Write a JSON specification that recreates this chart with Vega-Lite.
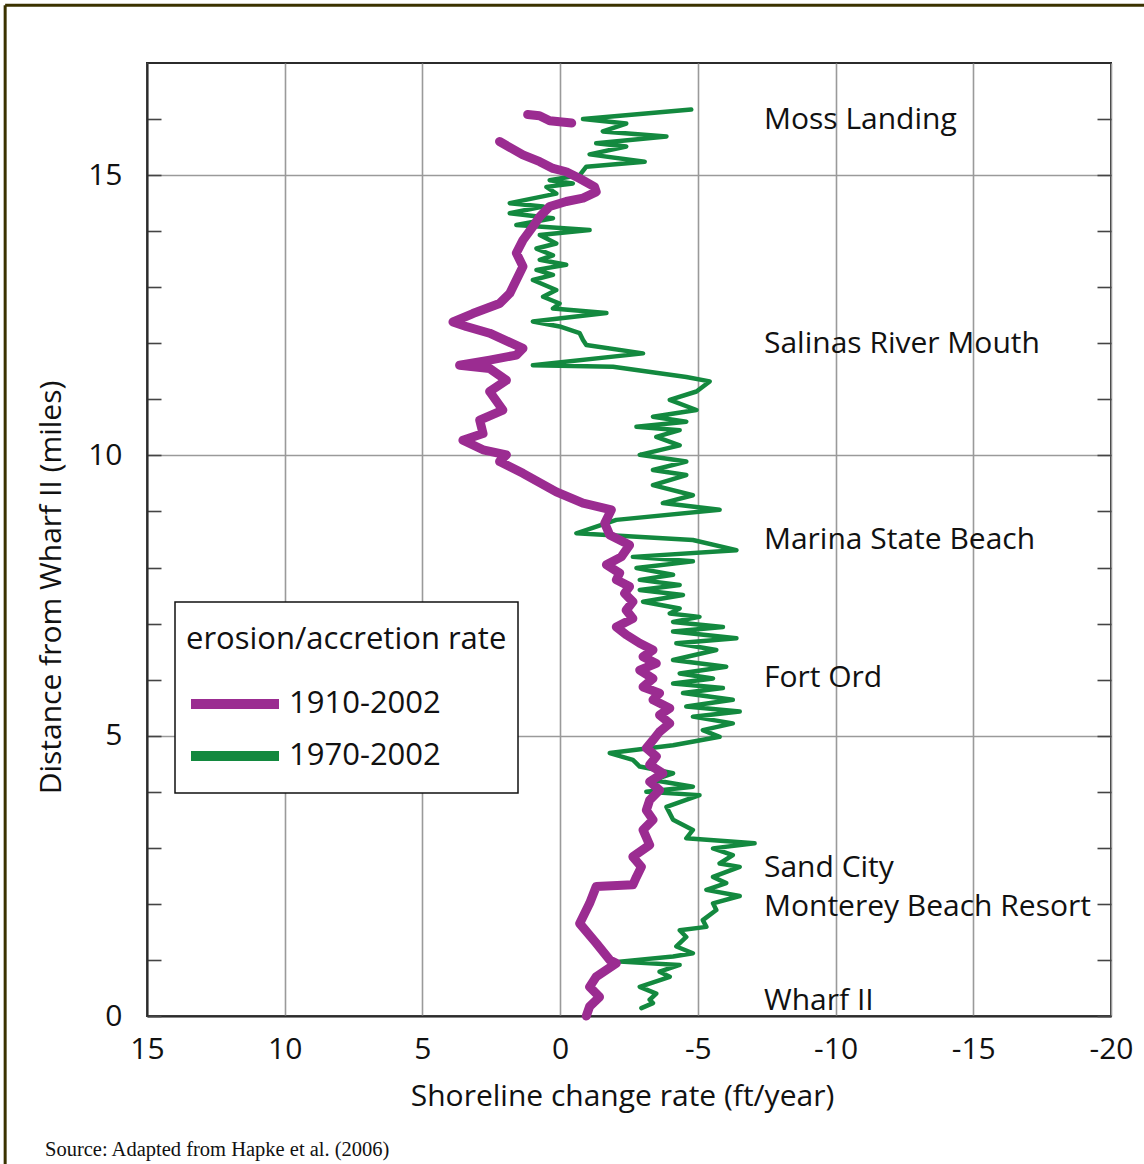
{
  "$schema": "https://vega.github.io/schema/vega-lite/v6.json",
  "width": 964,
  "height": 953,
  "autosize": {"type": "none"},
  "padding": {"left": 147, "top": 63, "right": 33, "bottom": 148},
  "background": "white",
  "config": {
    "font": "Open Sans",
    "view": {"stroke": "#2b2b2b", "strokeWidth": 2},
    "axis": {
      "labelFont": "Open Sans",
      "titleFont": "Open Sans",
      "labelColor": "#111",
      "titleColor": "#111",
      "titleFontWeight": "normal",
      "labelFontSize": 30,
      "titleFontSize": 30,
      "domainColor": "#2b2b2b",
      "domainWidth": 2,
      "gridColor": "#9a9a9a",
      "gridWidth": 1.6,
      "tickColor": "#444",
      "tickWidth": 1.6,
      "labelOverlap": false,
      "labelFlush": false
    },
    "legend": {
      "strokeColor": "#111",
      "fillColor": "white",
      "strokeWidth": 1.5,
      "padding": 11,
      "titleFont": "Open Sans",
      "labelFont": "Open Sans",
      "titleFontSize": 31,
      "titleFontWeight": "normal",
      "titleColor": "#111",
      "titleLimit": 1000,
      "titleBaseline": "line-top",
      "titleLineHeight": 54,
      "labelFontSize": 31,
      "labelColor": "#111",
      "labelLimit": 1000,
      "symbolType": "stroke",
      "symbolSize": 7744,
      "symbolStrokeWidth": 10,
      "clipHeight": 52,
      "rowPadding": 0,
      "titlePadding": 34,
      "labelOffset": 5,
      "symbolOffset": 0
    }
  },
  "title": {
    "text": "Source: Adapted from Hapke et al. (2006)",
    "orient": "bottom",
    "anchor": "start",
    "frame": "group",
    "dx": -102,
    "offset": -25,
    "font": "Liberation Serif",
    "fontSize": 20.5,
    "fontWeight": "normal",
    "color": "#111"
  },
  "datasets": {
    "rates": [
      {"period": "1970-2002", "seg": "g", "d": 16.17, "rate": -4.76},
      {"period": "1970-2002", "seg": "g", "d": 16.00, "rate": -0.83},
      {"period": "1970-2002", "seg": "g", "d": 15.92, "rate": -2.40},
      {"period": "1970-2002", "seg": "g", "d": 15.78, "rate": -1.55},
      {"period": "1970-2002", "seg": "g", "d": 15.69, "rate": -3.86},
      {"period": "1970-2002", "seg": "g", "d": 15.57, "rate": -1.31},
      {"period": "1970-2002", "seg": "g", "d": 15.51, "rate": -2.40},
      {"period": "1970-2002", "seg": "g", "d": 15.37, "rate": -1.07},
      {"period": "1970-2002", "seg": "g", "d": 15.24, "rate": -3.07},
      {"period": "1970-2002", "seg": "g", "d": 15.15, "rate": -0.95},
      {"period": "1970-2002", "seg": "g", "d": 15.00, "rate": -0.71},
      {"period": "1970-2002", "seg": "g", "d": 14.91, "rate": 0.38},
      {"period": "1970-2002", "seg": "g", "d": 14.85, "rate": -0.46},
      {"period": "1970-2002", "seg": "g", "d": 14.79, "rate": 0.50},
      {"period": "1970-2002", "seg": "g", "d": 14.67, "rate": 0.14},
      {"period": "1970-2002", "seg": "g", "d": 14.50, "rate": 1.83},
      {"period": "1970-2002", "seg": "g", "d": 14.44, "rate": 0.62},
      {"period": "1970-2002", "seg": "g", "d": 14.32, "rate": 1.83},
      {"period": "1970-2002", "seg": "g", "d": 14.23, "rate": 0.26},
      {"period": "1970-2002", "seg": "g", "d": 14.11, "rate": 1.59},
      {"period": "1970-2002", "seg": "g", "d": 14.02, "rate": -1.07},
      {"period": "1970-2002", "seg": "g", "d": 13.93, "rate": 0.74},
      {"period": "1970-2002", "seg": "g", "d": 13.78, "rate": 0.14},
      {"period": "1970-2002", "seg": "g", "d": 13.69, "rate": 0.86},
      {"period": "1970-2002", "seg": "g", "d": 13.57, "rate": 0.26},
      {"period": "1970-2002", "seg": "g", "d": 13.49, "rate": 0.74},
      {"period": "1970-2002", "seg": "g", "d": 13.40, "rate": -0.22},
      {"period": "1970-2002", "seg": "g", "d": 13.31, "rate": 0.86},
      {"period": "1970-2002", "seg": "g", "d": 13.22, "rate": 0.26},
      {"period": "1970-2002", "seg": "g", "d": 13.13, "rate": 0.99},
      {"period": "1970-2002", "seg": "g", "d": 12.95, "rate": 0.14},
      {"period": "1970-2002", "seg": "g", "d": 12.83, "rate": 0.62},
      {"period": "1970-2002", "seg": "g", "d": 12.71, "rate": 0.02},
      {"period": "1970-2002", "seg": "g", "d": 12.62, "rate": 0.26},
      {"period": "1970-2002", "seg": "g", "d": 12.54, "rate": -1.68},
      {"period": "1970-2002", "seg": "g", "d": 12.39, "rate": 0.99},
      {"period": "1970-2002", "seg": "g", "d": 12.30, "rate": 0.02},
      {"period": "1970-2002", "seg": "g", "d": 12.18, "rate": -0.71},
      {"period": "1970-2002", "seg": "g", "d": 12.06, "rate": -0.83},
      {"period": "1970-2002", "seg": "g", "d": 11.97, "rate": -0.95},
      {"period": "1970-2002", "seg": "g", "d": 11.82, "rate": -3.01},
      {"period": "1970-2002", "seg": "g", "d": 11.61, "rate": 0.99},
      {"period": "1970-2002", "seg": "g", "d": 11.58, "rate": -1.92},
      {"period": "1970-2002", "seg": "g", "d": 11.40, "rate": -4.58},
      {"period": "1970-2002", "seg": "g", "d": 11.32, "rate": -5.43},
      {"period": "1970-2002", "seg": "g", "d": 11.14, "rate": -4.95},
      {"period": "1970-2002", "seg": "g", "d": 10.99, "rate": -3.98},
      {"period": "1970-2002", "seg": "g", "d": 10.81, "rate": -4.95},
      {"period": "1970-2002", "seg": "g", "d": 10.69, "rate": -3.37},
      {"period": "1970-2002", "seg": "g", "d": 10.60, "rate": -4.58},
      {"period": "1970-2002", "seg": "g", "d": 10.51, "rate": -2.77},
      {"period": "1970-2002", "seg": "g", "d": 10.45, "rate": -4.34},
      {"period": "1970-2002", "seg": "g", "d": 10.33, "rate": -3.49},
      {"period": "1970-2002", "seg": "g", "d": 10.18, "rate": -4.34},
      {"period": "1970-2002", "seg": "g", "d": 10.01, "rate": -2.89},
      {"period": "1970-2002", "seg": "g", "d": 9.89, "rate": -4.58},
      {"period": "1970-2002", "seg": "g", "d": 9.74, "rate": -3.37},
      {"period": "1970-2002", "seg": "g", "d": 9.65, "rate": -4.58},
      {"period": "1970-2002", "seg": "g", "d": 9.47, "rate": -3.37},
      {"period": "1970-2002", "seg": "g", "d": 9.29, "rate": -4.82},
      {"period": "1970-2002", "seg": "g", "d": 9.15, "rate": -3.73},
      {"period": "1970-2002", "seg": "g", "d": 9.03, "rate": -5.79},
      {"period": "1970-2002", "seg": "g", "d": 8.85, "rate": -2.04},
      {"period": "1970-2002", "seg": "g", "d": 8.61, "rate": -0.59},
      {"period": "1970-2002", "seg": "g", "d": 8.49, "rate": -4.82},
      {"period": "1970-2002", "seg": "g", "d": 8.31, "rate": -6.40},
      {"period": "1970-2002", "seg": "g", "d": 8.19, "rate": -2.64},
      {"period": "1970-2002", "seg": "g", "d": 8.11, "rate": -4.82},
      {"period": "1970-2002", "seg": "g", "d": 7.99, "rate": -2.77},
      {"period": "1970-2002", "seg": "g", "d": 7.87, "rate": -4.10},
      {"period": "1970-2002", "seg": "g", "d": 7.78, "rate": -2.89},
      {"period": "1970-2002", "seg": "g", "d": 7.69, "rate": -4.34},
      {"period": "1970-2002", "seg": "g", "d": 7.60, "rate": -2.89},
      {"period": "1970-2002", "seg": "g", "d": 7.51, "rate": -4.46},
      {"period": "1970-2002", "seg": "g", "d": 7.39, "rate": -3.01},
      {"period": "1970-2002", "seg": "g", "d": 7.27, "rate": -4.34},
      {"period": "1970-2002", "seg": "g", "d": 7.18, "rate": -3.98},
      {"period": "1970-2002", "seg": "g", "d": 7.12, "rate": -5.06},
      {"period": "1970-2002", "seg": "g", "d": 7.03, "rate": -4.10},
      {"period": "1970-2002", "seg": "g", "d": 6.94, "rate": -5.91},
      {"period": "1970-2002", "seg": "g", "d": 6.86, "rate": -4.10},
      {"period": "1970-2002", "seg": "g", "d": 6.74, "rate": -6.40},
      {"period": "1970-2002", "seg": "g", "d": 6.65, "rate": -4.22},
      {"period": "1970-2002", "seg": "g", "d": 6.53, "rate": -5.67},
      {"period": "1970-2002", "seg": "g", "d": 6.35, "rate": -4.10},
      {"period": "1970-2002", "seg": "g", "d": 6.23, "rate": -6.03},
      {"period": "1970-2002", "seg": "g", "d": 6.11, "rate": -4.34},
      {"period": "1970-2002", "seg": "g", "d": 6.02, "rate": -5.55},
      {"period": "1970-2002", "seg": "g", "d": 5.93, "rate": -4.10},
      {"period": "1970-2002", "seg": "g", "d": 5.85, "rate": -5.91},
      {"period": "1970-2002", "seg": "g", "d": 5.76, "rate": -4.46},
      {"period": "1970-2002", "seg": "g", "d": 5.64, "rate": -6.27},
      {"period": "1970-2002", "seg": "g", "d": 5.52, "rate": -4.58},
      {"period": "1970-2002", "seg": "g", "d": 5.43, "rate": -6.52},
      {"period": "1970-2002", "seg": "g", "d": 5.34, "rate": -4.82},
      {"period": "1970-2002", "seg": "g", "d": 5.22, "rate": -6.27},
      {"period": "1970-2002", "seg": "g", "d": 5.10, "rate": -5.18},
      {"period": "1970-2002", "seg": "g", "d": 4.98, "rate": -5.79},
      {"period": "1970-2002", "seg": "g", "d": 4.83, "rate": -4.10},
      {"period": "1970-2002", "seg": "g", "d": 4.69, "rate": -1.80},
      {"period": "1970-2002", "seg": "g", "d": 4.57, "rate": -2.64},
      {"period": "1970-2002", "seg": "g", "d": 4.45, "rate": -2.89},
      {"period": "1970-2002", "seg": "g", "d": 4.33, "rate": -4.10},
      {"period": "1970-2002", "seg": "g", "d": 4.21, "rate": -3.37},
      {"period": "1970-2002", "seg": "g", "d": 4.09, "rate": -4.82},
      {"period": "1970-2002", "seg": "g", "d": 4.00, "rate": -3.13},
      {"period": "1970-2002", "seg": "g", "d": 3.94, "rate": -5.06},
      {"period": "1970-2002", "seg": "g", "d": 3.73, "rate": -3.86},
      {"period": "1970-2002", "seg": "g", "d": 3.50, "rate": -4.10},
      {"period": "1970-2002", "seg": "g", "d": 3.32, "rate": -4.82},
      {"period": "1970-2002", "seg": "g", "d": 3.17, "rate": -4.58},
      {"period": "1970-2002", "seg": "g", "d": 3.08, "rate": -7.06},
      {"period": "1970-2002", "seg": "g", "d": 2.99, "rate": -5.55},
      {"period": "1970-2002", "seg": "g", "d": 2.87, "rate": -6.27},
      {"period": "1970-2002", "seg": "g", "d": 2.72, "rate": -5.79},
      {"period": "1970-2002", "seg": "g", "d": 2.66, "rate": -6.52},
      {"period": "1970-2002", "seg": "g", "d": 2.48, "rate": -5.55},
      {"period": "1970-2002", "seg": "g", "d": 2.37, "rate": -6.03},
      {"period": "1970-2002", "seg": "g", "d": 2.25, "rate": -5.31},
      {"period": "1970-2002", "seg": "g", "d": 2.14, "rate": -6.52},
      {"period": "1970-2002", "seg": "g", "d": 2.01, "rate": -5.55},
      {"period": "1970-2002", "seg": "g", "d": 1.89, "rate": -5.67},
      {"period": "1970-2002", "seg": "g", "d": 1.71, "rate": -5.18},
      {"period": "1970-2002", "seg": "g", "d": 1.59, "rate": -5.31},
      {"period": "1970-2002", "seg": "g", "d": 1.53, "rate": -4.34},
      {"period": "1970-2002", "seg": "g", "d": 1.41, "rate": -4.58},
      {"period": "1970-2002", "seg": "g", "d": 1.24, "rate": -4.22},
      {"period": "1970-2002", "seg": "g", "d": 1.12, "rate": -4.82},
      {"period": "1970-2002", "seg": "g", "d": 1.06, "rate": -4.10},
      {"period": "1970-2002", "seg": "g", "d": 0.97, "rate": -2.16},
      {"period": "1970-2002", "seg": "g", "d": 0.91, "rate": -4.34},
      {"period": "1970-2002", "seg": "g", "d": 0.79, "rate": -3.61},
      {"period": "1970-2002", "seg": "g", "d": 0.70, "rate": -3.98},
      {"period": "1970-2002", "seg": "g", "d": 0.52, "rate": -2.89},
      {"period": "1970-2002", "seg": "g", "d": 0.40, "rate": -3.49},
      {"period": "1970-2002", "seg": "g", "d": 0.29, "rate": -3.25},
      {"period": "1970-2002", "seg": "g", "d": 0.23, "rate": -3.37},
      {"period": "1970-2002", "seg": "g", "d": 0.14, "rate": -2.95},
      {"period": "1910-2002", "seg": "a", "d": 16.08, "rate": 1.18},
      {"period": "1910-2002", "seg": "a", "d": 16.06, "rate": 0.75},
      {"period": "1910-2002", "seg": "a", "d": 15.97, "rate": 0.38},
      {"period": "1910-2002", "seg": "a", "d": 15.93, "rate": -0.42},
      {"period": "1910-2002", "seg": "b", "d": 15.60, "rate": 2.20},
      {"period": "1910-2002", "seg": "b", "d": 15.36, "rate": 1.35},
      {"period": "1910-2002", "seg": "b", "d": 15.24, "rate": 0.74},
      {"period": "1910-2002", "seg": "b", "d": 15.12, "rate": 0.26},
      {"period": "1910-2002", "seg": "b", "d": 15.06, "rate": -0.22},
      {"period": "1910-2002", "seg": "b", "d": 14.94, "rate": -0.71},
      {"period": "1910-2002", "seg": "b", "d": 14.79, "rate": -1.25},
      {"period": "1910-2002", "seg": "b", "d": 14.70, "rate": -1.31},
      {"period": "1910-2002", "seg": "b", "d": 14.59, "rate": -0.83},
      {"period": "1910-2002", "seg": "b", "d": 14.53, "rate": -0.22},
      {"period": "1910-2002", "seg": "b", "d": 14.44, "rate": 0.38},
      {"period": "1910-2002", "seg": "b", "d": 14.26, "rate": 0.74},
      {"period": "1910-2002", "seg": "b", "d": 14.08, "rate": 0.99},
      {"period": "1910-2002", "seg": "b", "d": 13.84, "rate": 1.35},
      {"period": "1910-2002", "seg": "b", "d": 13.61, "rate": 1.59},
      {"period": "1910-2002", "seg": "b", "d": 13.37, "rate": 1.35},
      {"period": "1910-2002", "seg": "b", "d": 13.13, "rate": 1.59},
      {"period": "1910-2002", "seg": "b", "d": 12.89, "rate": 1.83},
      {"period": "1910-2002", "seg": "b", "d": 12.71, "rate": 2.20},
      {"period": "1910-2002", "seg": "b", "d": 12.53, "rate": 3.17},
      {"period": "1910-2002", "seg": "b", "d": 12.38, "rate": 3.89},
      {"period": "1910-2002", "seg": "b", "d": 12.30, "rate": 3.41},
      {"period": "1910-2002", "seg": "b", "d": 12.18, "rate": 2.56},
      {"period": "1910-2002", "seg": "b", "d": 11.91, "rate": 1.35},
      {"period": "1910-2002", "seg": "b", "d": 11.79, "rate": 1.59},
      {"period": "1910-2002", "seg": "b", "d": 11.70, "rate": 2.56},
      {"period": "1910-2002", "seg": "b", "d": 11.61, "rate": 3.65},
      {"period": "1910-2002", "seg": "b", "d": 11.55, "rate": 2.56},
      {"period": "1910-2002", "seg": "b", "d": 11.34, "rate": 1.95},
      {"period": "1910-2002", "seg": "b", "d": 11.14, "rate": 2.56},
      {"period": "1910-2002", "seg": "b", "d": 10.81, "rate": 2.08},
      {"period": "1910-2002", "seg": "b", "d": 10.63, "rate": 2.92},
      {"period": "1910-2002", "seg": "b", "d": 10.39, "rate": 2.80},
      {"period": "1910-2002", "seg": "b", "d": 10.27, "rate": 3.53},
      {"period": "1910-2002", "seg": "b", "d": 10.10, "rate": 2.80},
      {"period": "1910-2002", "seg": "b", "d": 10.01, "rate": 1.95},
      {"period": "1910-2002", "seg": "b", "d": 9.89, "rate": 2.20},
      {"period": "1910-2002", "seg": "b", "d": 9.68, "rate": 1.35},
      {"period": "1910-2002", "seg": "b", "d": 9.35, "rate": 0.14},
      {"period": "1910-2002", "seg": "b", "d": 9.15, "rate": -0.83},
      {"period": "1910-2002", "seg": "b", "d": 9.03, "rate": -1.86},
      {"period": "1910-2002", "seg": "b", "d": 8.79, "rate": -1.62},
      {"period": "1910-2002", "seg": "b", "d": 8.58, "rate": -1.80},
      {"period": "1910-2002", "seg": "b", "d": 8.40, "rate": -2.52},
      {"period": "1910-2002", "seg": "b", "d": 8.19, "rate": -2.22},
      {"period": "1910-2002", "seg": "b", "d": 8.05, "rate": -1.68},
      {"period": "1910-2002", "seg": "b", "d": 7.90, "rate": -2.16},
      {"period": "1910-2002", "seg": "b", "d": 7.78, "rate": -2.04},
      {"period": "1910-2002", "seg": "b", "d": 7.66, "rate": -2.52},
      {"period": "1910-2002", "seg": "b", "d": 7.54, "rate": -2.34},
      {"period": "1910-2002", "seg": "b", "d": 7.39, "rate": -2.64},
      {"period": "1910-2002", "seg": "b", "d": 7.24, "rate": -2.40},
      {"period": "1910-2002", "seg": "b", "d": 7.09, "rate": -2.64},
      {"period": "1910-2002", "seg": "b", "d": 6.94, "rate": -2.04},
      {"period": "1910-2002", "seg": "b", "d": 6.80, "rate": -2.40},
      {"period": "1910-2002", "seg": "b", "d": 6.65, "rate": -2.89},
      {"period": "1910-2002", "seg": "b", "d": 6.53, "rate": -3.37},
      {"period": "1910-2002", "seg": "b", "d": 6.41, "rate": -3.01},
      {"period": "1910-2002", "seg": "b", "d": 6.29, "rate": -3.49},
      {"period": "1910-2002", "seg": "b", "d": 6.17, "rate": -2.89},
      {"period": "1910-2002", "seg": "b", "d": 6.02, "rate": -3.37},
      {"period": "1910-2002", "seg": "b", "d": 5.87, "rate": -3.01},
      {"period": "1910-2002", "seg": "b", "d": 5.76, "rate": -3.61},
      {"period": "1910-2002", "seg": "b", "d": 5.64, "rate": -3.37},
      {"period": "1910-2002", "seg": "b", "d": 5.49, "rate": -3.98},
      {"period": "1910-2002", "seg": "b", "d": 5.37, "rate": -3.61},
      {"period": "1910-2002", "seg": "b", "d": 5.22, "rate": -3.98},
      {"period": "1910-2002", "seg": "b", "d": 5.07, "rate": -3.61},
      {"period": "1910-2002", "seg": "b", "d": 4.92, "rate": -3.37},
      {"period": "1910-2002", "seg": "b", "d": 4.78, "rate": -3.13},
      {"period": "1910-2002", "seg": "b", "d": 4.63, "rate": -3.49},
      {"period": "1910-2002", "seg": "b", "d": 4.48, "rate": -3.25},
      {"period": "1910-2002", "seg": "b", "d": 4.33, "rate": -3.73},
      {"period": "1910-2002", "seg": "b", "d": 4.18, "rate": -3.25},
      {"period": "1910-2002", "seg": "b", "d": 4.03, "rate": -3.61},
      {"period": "1910-2002", "seg": "b", "d": 3.85, "rate": -3.25},
      {"period": "1910-2002", "seg": "b", "d": 3.67, "rate": -3.13},
      {"period": "1910-2002", "seg": "b", "d": 3.50, "rate": -3.37},
      {"period": "1910-2002", "seg": "b", "d": 3.32, "rate": -3.01},
      {"period": "1910-2002", "seg": "b", "d": 3.05, "rate": -3.25},
      {"period": "1910-2002", "seg": "b", "d": 2.84, "rate": -2.64},
      {"period": "1910-2002", "seg": "b", "d": 2.66, "rate": -2.95},
      {"period": "1910-2002", "seg": "b", "d": 2.48, "rate": -2.77},
      {"period": "1910-2002", "seg": "b", "d": 2.34, "rate": -2.64},
      {"period": "1910-2002", "seg": "b", "d": 2.31, "rate": -1.31},
      {"period": "1910-2002", "seg": "b", "d": 2.01, "rate": -1.07},
      {"period": "1910-2002", "seg": "b", "d": 1.65, "rate": -0.71},
      {"period": "1910-2002", "seg": "b", "d": 1.30, "rate": -1.31},
      {"period": "1910-2002", "seg": "b", "d": 1.00, "rate": -1.80},
      {"period": "1910-2002", "seg": "b", "d": 0.94, "rate": -2.04},
      {"period": "1910-2002", "seg": "b", "d": 0.70, "rate": -1.31},
      {"period": "1910-2002", "seg": "b", "d": 0.52, "rate": -1.07},
      {"period": "1910-2002", "seg": "b", "d": 0.34, "rate": -1.43},
      {"period": "1910-2002", "seg": "b", "d": 0.17, "rate": -1.07},
      {"period": "1910-2002", "seg": "b", "d": 0.00, "rate": -0.95}
    ],
    "places": [
      {"label": "Moss Landing", "d": 15.98},
      {"label": "Salinas River Mouth", "d": 11.99},
      {"label": "Marina State Beach", "d": 8.49},
      {"label": "Fort Ord", "d": 6.03},
      {"label": "Sand City", "d": 2.64},
      {"label": "Monterey Beach Resort", "d": 1.94},
      {"label": "Wharf II", "d": 0.27}
    ]
  },
  "resolve": {"scale": {"y": "shared", "x": "shared"}, "axis": {"y": "independent"}},
  "layer": [
    {
      "data": {"name": "rates"},
      "transform": [{"filter": "datum.period === '1970-2002'"}],
      "mark": {"type": "line", "strokeWidth": 4.5, "strokeJoin": "round", "strokeCap": "round"},
      "encoding": {
        "x": {
          "field": "rate",
          "type": "quantitative",
          "scale": {"domain": [-20, 15], "reverse": true, "nice": false, "zero": false},
          "axis": {
            "values": [15, 10, 5, 0, -5, -10, -15, -20],
            "ticks": false,
            "labelPadding": 18,
            "labelExpr": "datum.value + ''",
            "title": "Shoreline change rate (ft/year)",
            "titlePadding": 17,
            "titleX": 475,
            "grid": true
          }
        },
        "y": {
          "field": "d",
          "type": "quantitative",
          "scale": {"domain": [0, 17], "nice": false, "zero": false},
          "axis": {
            "orient": "left",
            "values": [0, 1, 2, 3, 4, 5, 6, 7, 8, 9, 10, 11, 12, 13, 14, 15, 16],
            "tickSize": -14,
            "labelPadding": 39,
            "labelExpr": "datum.value % 5 === 0 ? datum.value + '' : ''",
            "title": "Distance from Wharf II (miles)",
            "titlePadding": 21,
            "titleY": 524,
            "grid": true,
            "gridOpacity": {"condition": {"test": "datum.value % 5 === 0", "value": 1}, "value": 0}
          }
        },
        "color": {
          "field": "period",
          "type": "nominal",
          "scale": {"domain": ["1910-2002", "1970-2002"], "range": ["#9b2c91", "#13893f"]},
          "legend": {"title": "erosion/accretion rate", "orient": "none", "legendX": 28, "legendY": 539}
        },
        "order": {"field": "d", "sort": "descending"}
      }
    },
    {
      "data": {"name": "rates"},
      "transform": [{"filter": "datum.period === '1910-2002'"}],
      "mark": {"type": "line", "strokeWidth": 9, "strokeJoin": "round", "strokeCap": "round"},
      "encoding": {
        "x": {"field": "rate", "type": "quantitative"},
        "y": {"field": "d", "type": "quantitative", "axis": null},
        "color": {"field": "period", "type": "nominal"},
        "detail": {"field": "seg"},
        "order": {"field": "d", "sort": "descending"}
      }
    },
    {
      "data": {"name": "places"},
      "mark": {"type": "text", "align": "left", "baseline": "middle", "fontSize": 30, "font": "Open Sans", "color": "#111"},
      "encoding": {
        "x": {"datum": -7.4},
        "y": {
          "field": "d",
          "type": "quantitative",
          "axis": {
            "orient": "right",
            "values": [0, 1, 2, 3, 4, 5, 6, 7, 8, 9, 10, 11, 12, 13, 14, 15, 16],
            "tickSize": -14,
            "labels": false,
            "grid": false,
            "domain": false,
            "title": null
          }
        },
        "text": {"field": "label"}
      }
    },
    {
      "data": {"values": [{}]},
      "mark": {"type": "rule", "color": "#3b3300", "strokeWidth": 3},
      "encoding": {
        "x": {"datum": 20.15},
        "y": {"datum": 18.03, "axis": null},
        "y2": {"datum": -2.64}
      }
    },
    {
      "data": {"values": [{}]},
      "mark": {"type": "rule", "color": "#3b3300", "strokeWidth": 3},
      "encoding": {
        "x": {"datum": 20.15},
        "x2": {"datum": -25},
        "y": {"datum": 18.03, "axis": null}
      }
    }
  ]
}
